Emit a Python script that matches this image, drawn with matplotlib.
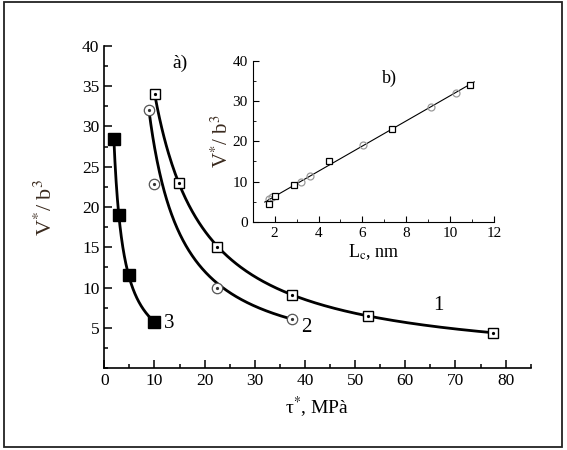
import numpy as np
import matplotlib
matplotlib.use("Agg")
import matplotlib.pyplot as plt
from matplotlib.patches import Rectangle
from matplotlib.ticker import MultipleLocator

plt.rcParams['font.family'] = ['Liberation Serif', 'DejaVu Serif']
plt.rcParams['mathtext.fontset'] = 'stix'

# ---- main panel data (tau*, MPa ; V*/b^3) ----
tau1 = [10.1, 14.9, 22.4, 37.5, 52.5, 77.4]
v1 = [34.0, 23.0, 15.0, 9.05, 6.5, 4.4]
tau2 = [8.9, 9.9, 22.5, 37.5]
v2 = [32.0, 22.8, 10.0, 6.05]
tau3 = [1.9, 2.9, 4.9, 10.0]
v3 = [28.4, 19.0, 11.5, 5.7]
curve_labels = ["1", "2", "3"]

# ---- inset data (Lc, nm ; V*/b^3) ----
lc_sq = [1.76, 2.0, 2.89, 4.5, 7.35, 10.9]
vb_sq = [4.5, 6.4, 9.05, 15.0, 23.0, 34.0]
lc_ci = [1.75, 1.9, 3.18, 3.59, 6.01, 9.11, 10.26]
vb_ci = [5.7, 6.05, 10.0, 11.4, 19.0, 28.6, 32.0]

main_xticks = [0, 10, 20, 30, 40, 50, 60, 70, 80]
main_yticks = [5, 10, 15, 20, 25, 30, 35, 40]
inset_xticks = [2, 4, 6, 8, 10, 12]
inset_yticks = [0, 10, 20, 30, 40]

W, H = 567, 450
fig = plt.figure(figsize=(W / 100, H / 100), dpi=100)
fig.patch.set_facecolor('white')
fig.add_artist(Rectangle((4 / W, 1 - 446.7 / H), (562.3 - 4) / W, (446.7 - 2.3) / H,
                         transform=fig.transFigure, fill=False, ec='#222222', lw=1.3))

ax = fig.add_axes([104.3 / W, 1 - 368 / H, 426.4 / W, 322 / H])
for s in ['top', 'right']:
    ax.spines[s].set_visible(False)
for s in ['left', 'bottom']:
    ax.spines[s].set_linewidth(1.2)
ax.set_xlim(0, 85)
ax.set_ylim(0, 40)
ax.set_xticks(main_xticks)
ax.set_yticks(main_yticks)
ax.xaxis.set_minor_locator(MultipleLocator(5))
ax.yaxis.set_minor_locator(MultipleLocator(2.5))
ax.tick_params(which='both', direction='in', labelsize=12.5, width=1.1)
ax.tick_params(which='major', length=5.5)
ax.tick_params(which='minor', length=3)


def power_fit(x, y):
    x = np.asarray(x); y = np.asarray(y)
    b, a = np.polyfit(np.log(x), np.log(y), 1)
    xs = np.linspace(x.min(), x.max(), 300)
    return xs, np.exp(a) * xs ** b


def hyper_ends(x, y):
    # hyperbola a/(x - x0) through the first and last points of the series
    x = np.asarray(x); y = np.asarray(y)
    x0 = (y[0] * x[0] - y[-1] * x[-1]) / (y[0] - y[-1])
    a = y[0] * (x[0] - x0)
    xs = np.linspace(x.min(), x.max(), 300)
    return xs, a / (xs - x0)


for (tx, vy, fit) in [(tau1, v1, power_fit), (tau2, v2, hyper_ends), (tau3, v3, power_fit)]:
    xs, ys = fit(tx, vy)
    ax.plot(xs, ys, color='black', lw=2.0, zorder=2)

ax.plot(tau1, v1, 's', ms=7.8, mfc='white', mec='black', mew=1.0, zorder=3)
ax.plot(tau1, v1, 'o', ms=1.3, color='black', zorder=4)
ax.plot(tau2, v2, 'o', ms=7.5, mfc='white', mec='#555555', mew=0.9, zorder=3)
ax.plot(tau2, v2, 'o', ms=1.3, color='#333333', zorder=4)
ax.plot(tau3, v3, 's', ms=8.5, mfc='black', mec='black', zorder=3)

ax.text(66.5, 7.8, curve_labels[0], fontsize=15, ha='center', va='center')
ax.text(40.3, 5.0, curve_labels[1], fontsize=15, ha='center', va='center')
ax.text(12.9, 5.5, curve_labels[2], fontsize=15, ha='center', va='center')
ax.text(15, 37.8, "à)", fontsize=14, ha='center', va='center')

ax.set_xlabel("τ$^{*}$, MPà", fontsize=14, labelpad=4)
ax.set_ylabel("V$^{*}$/ b$^{3}$", fontsize=16, color='#3a2a1e', labelpad=18)

# ---- inset ----
ia = fig.add_axes([252.7 / W, 1 - 221.7 / H, (494 - 252.7) / W, (221.7 - 61) / H])
for s in ['top', 'right']:
    ia.spines[s].set_visible(False)
ia.set_xlim(1, 12)
ia.set_ylim(0, 40)
ia.set_xticks(inset_xticks)
ia.set_yticks(inset_yticks)
ia.xaxis.set_minor_locator(MultipleLocator(1))
ia.yaxis.set_minor_locator(MultipleLocator(5))
ia.tick_params(which='both', direction='in', labelsize=11)
ia.tick_params(which='major', length=4.5)
ia.tick_params(which='minor', length=2.5)

all_lc = np.array(lc_sq + lc_ci)
all_vb = np.array(vb_sq + vb_ci)
k, c = np.polyfit(all_lc, all_vb, 1)
xl = np.array([all_lc.min() - 0.2, all_lc.max() + 0.2])
ia.plot(xl, k * xl + c, color='black', lw=0.8, zorder=2)
ia.plot(lc_ci, vb_ci, 'o', ms=5, mfc='none', mec='#9a9a9a', mew=0.9, zorder=3)
ia.plot(lc_sq, vb_sq, 's', ms=5, mfc='white', mec='black', mew=0.9, zorder=4)
ia.text(7.25, 35.6, "b)", fontsize=13, ha='center', va='center')
ia.set_xlabel("L$_{\\mathrm{c}}$, nm", fontsize=13, labelpad=2)
ia.set_ylabel("V$^{*}$/ b$^{3}$", fontsize=15, color='#3a2a1e', labelpad=0)

fig.savefig("out.png", dpi=100, facecolor='white')
